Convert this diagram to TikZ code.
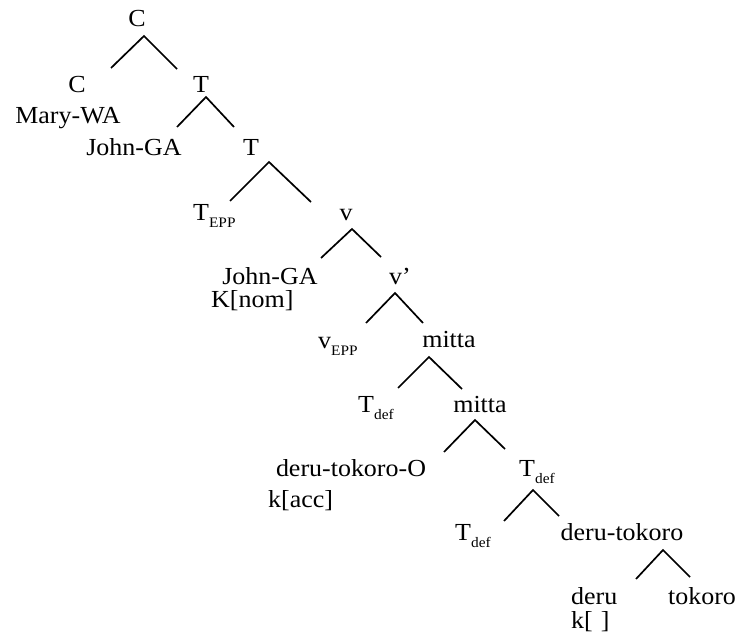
\documentclass[tikz,border=0pt]{standalone}
\usepackage{fontspec}
\setmainfont{Liberation Serif}[FakeStretch=1.06]
\newcommand{\lowsub}[1]{\raisebox{-7.5pt}{\fontsize{14.5}{16}\selectfont #1}}
\begin{document}
\begin{tikzpicture}[x=1pt,y=-1pt,
  lbl/.style={inner sep=0pt,anchor=base,font=\fontsize{24.5}{28}\selectfont},
  lblw/.style={lbl,anchor=base west},
  branch/.style={line width=1.7pt,line cap=butt}]
\useasboundingbox (0,0) rectangle (738,642);
% labels
\node[lbl] (C0) at (137,27) {C};
\node[lbl] (C1) at (77,92) {C};
\node[lbl] (T1) at (201,92) {T};
\node[lbl] (MW) at (68,123) {Mary-WA};
\node[lbl] (JG1) at (134,155) {John-GA};
\node[lbl] (T2) at (251,155) {T};
\node[lblw] (TEPP) at (193,220) {T\lowsub{EPP}};
\node[lbl] (v) at (346,220) {v};
\node[lbl] (JG2) at (270,284) {John-GA};
\node[lblw] (Knom) at (211,307) {K[nom]};
\node[lblw] (vp) at (389,284) {v’};
\node[lblw] (vEPP) at (318,348) {v\lowsub{EPP}};
\node[lbl] (m1) at (449,347) {mitta};
\node[lblw] (Td1) at (358,412) {T\lowsub{def}};
\node[lbl] (m2) at (480,412) {mitta};
\node[lbl] (dtO) at (351,476) {deru-tokoro-O};
\node[lblw] (kacc) at (268,507) {k[acc]};
\node[lblw] (Td2) at (519,476) {T\lowsub{def}};
\node[lblw] (Td3) at (455,540) {T\lowsub{def}};
\node[lbl] (dt) at (622,540) {deru-tokoro};
\node[lblw] (deru) at (571,604) {deru};
\node[lbl] (tok) at (702,604) {tokoro};
\node[lblw] (kempty) at (571,628) {k[\,\,]};
% branch points
\coordinate (a1) at (144,36);  \coordinate (l1) at (111,68);  \coordinate (r1) at (177,69);
\coordinate (a2) at (206,97);  \coordinate (l2) at (177,127); \coordinate (r2) at (234,127);
\coordinate (a3) at (269,162); \coordinate (l3) at (230,201); \coordinate (r3) at (311,202);
\coordinate (a4) at (352,229); \coordinate (l4) at (321,258); \coordinate (r4) at (381,257);
\coordinate (a5) at (395,293); \coordinate (l5) at (366,323); \coordinate (r5) at (423,323);
\coordinate (a6) at (429,357); \coordinate (l6) at (398,388); \coordinate (r6) at (462,389);
\coordinate (a7) at (475,420); \coordinate (l7) at (444,452); \coordinate (r7) at (505,449);
\coordinate (a8) at (533,490); \coordinate (l8) at (504,521); \coordinate (r8) at (559,516);
\coordinate (a9) at (663,550); \coordinate (l9) at (636,579); \coordinate (r9) at (690,577);
\foreach \i in {1,...,9}{
  \draw[branch] (l\i) -- (a\i) -- (r\i);
}
\end{tikzpicture}
\end{document}
